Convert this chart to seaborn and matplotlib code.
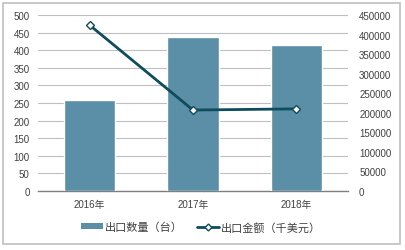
import matplotlib
matplotlib.use("Agg")
import matplotlib.pyplot as plt
import seaborn as sns
import pandas as pd
from matplotlib.lines import Line2D
from matplotlib.patches import Patch, Rectangle

years = ["2016年", "2017年", "2018年"]
qty = [258, 437, 415]
amount = [424000, 207000, 210000]
qty_label = "出口数量（台）"
amt_label = "出口金额（千美元）"

sns.set_theme(style="white")
plt.rcParams['font.family'] = ['Liberation Sans', 'Noto Sans CJK SC', 'DejaVu Sans']

df = pd.DataFrame({"year": years, "qty": qty, "amount": amount})

W, H = 406, 251
fig = plt.figure(figsize=(W/100, H/100), dpi=100)
fig.patches.append(Rectangle((3/W, 1-245/H), 397/W, 241/H, transform=fig.transFigure,
                             fill=False, edgecolor="#BFBFBF", linewidth=1.2))
ax = fig.add_axes([38/W, 1-192/H, 310/W, 176/H])

bar_c = "#5A8FA7"
line_c = "#0F4C5C"
txt_c = "#404040"

sns.barplot(data=df, x="year", y="qty", ax=ax, color=bar_c, width=0.5, saturation=1, zorder=3)
ax.set_ylim(0, 500)
ax.set_yticks(range(0, 501, 50))
ax.yaxis.grid(True, color="#BFBFBF", linewidth=0.8, zorder=0)
ax.set_axisbelow(True)
for s in ["top", "right", "left"]:
    ax.spines[s].set_visible(False)
ax.spines["bottom"].set_color("#7F7F7F")
ax.spines["bottom"].set_linewidth(1.0)
ax.set_xlabel("")
ax.set_ylabel("")
ax.tick_params(axis="y", length=0, labelsize=7, colors=txt_c, pad=6)
ax.tick_params(axis="x", length=0, labelsize=7, colors=txt_c, pad=6)

ax2 = ax.twinx()
sns.lineplot(x=[0, 1, 2], y=amount, ax=ax2, color=line_c, linewidth=2,
             marker="D", markersize=4.5, markerfacecolor="white", markeredgecolor=line_c,
             markeredgewidth=1)
ax2.set_ylim(0, 450000)
ax2.set_yticks(range(0, 450001, 50000))
for s in ["top", "right", "left", "bottom"]:
    ax2.spines[s].set_visible(False)
ax2.tick_params(axis="y", length=0, labelsize=7, colors=txt_c, pad=8)
ax2.set_ylabel("")
ax.set_xlim(-0.5, 2.5)

handles = [Patch(facecolor=bar_c, edgecolor="none"),
           Line2D([0], [0], color=line_c, lw=2, marker="D", markersize=3.5,
                  markerfacecolor="white", markeredgecolor=line_c)]
fig.legend(handles, [qty_label, amt_label], loc="center", bbox_to_anchor=(201/W, 1-228/H),
           ncol=2, frameon=False, fontsize=8, handlelength=2.0, handleheight=0.45,
           columnspacing=1.2, handletextpad=0.2, labelcolor=txt_c)

fig.savefig("out.png", dpi=100)
